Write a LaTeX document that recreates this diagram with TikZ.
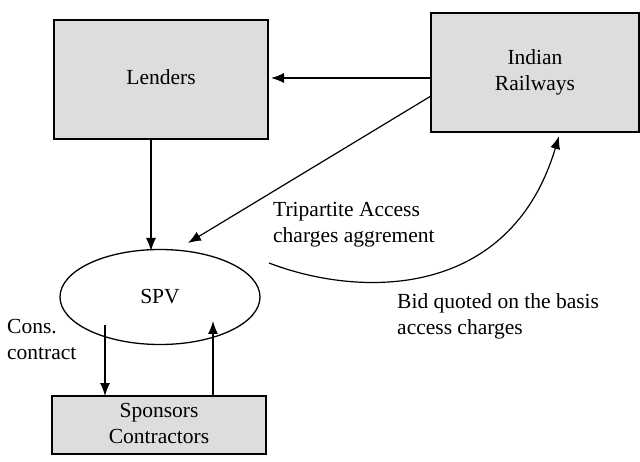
\documentclass[tikz,border=0pt]{standalone}
\usepackage{fontspec}
\setmainfont{Liberation Serif}
\usetikzlibrary{arrows.meta,shapes.geometric}
\definecolor{boxgray}{HTML}{DCDDDE}
\newcommand{\twoline}[3]{\raisebox{#1}{\begin{tabular}{@{}c@{}}#2\\#3\end{tabular}}}
\tikzset{
  box/.style={draw=black, line width=1.3pt, fill=boxgray, align=center, inner sep=0pt},
  lbl/.style={align=left, anchor=north west, inner sep=0pt},
  conn/.style={line width=1.2pt, -{Latex[length=13pt,width=10pt]}},
}
\begin{document}
\begin{tikzpicture}[x=1pt,y=-1pt, font=\fontsize{21.5}{26}\selectfont]
\useasboundingbox (0,0) rectangle (640,462);
\node[box, minimum width=214pt, minimum height=119pt] (lenders) at (161,79.5) {\raisebox{5pt}{Lenders}};
\node[box, minimum width=208pt, minimum height=119pt] (rail) at (535,72.5) {\twoline{6pt}{Indian}{Railways}};
\node[draw=black, line width=1.3pt, ellipse, minimum width=200pt, minimum height=95pt, inner sep=0pt] (spv) at (160,297) {SPV};
\node[box, minimum width=214pt, minimum height=58pt] (spons) at (159,425) {\twoline{3pt}{Sponsors}{Contractors}};
\coordinate (r1) at (431,78);
\coordinate (l1) at (271,78);
\coordinate (r2) at (431,96);
\coordinate (s2) at (188,243);
\coordinate (ld) at (151,139);
\coordinate (sd) at (151,251);
\coordinate (c0) at (269,263);
\coordinate (c1) at (559,136);
\coordinate (sp1) at (105,325);
\coordinate (sp2) at (105,396);
\coordinate (sp3) at (213,396);
\coordinate (sp4) at (213,321);
\draw[conn] (r1) -- (l1);
\draw[conn] (r2) -- (s2);
\draw[conn] (ld) -- (sd);
\draw[conn] (c0) .. controls (360,298) and (510,300) .. (c1);
\draw[conn] (sp1) -- (sp2);
\draw[conn] (sp3) -- (sp4);
\node[lbl] (t1) at (273,202) {Tripartite Access\\charges aggrement};
\node[lbl] (t2) at (397,293) {Bid quoted on the basis\\access charges};
\node[lbl] (t3) at (7,319) {Cons.\\contract};
\end{tikzpicture}
\end{document}
